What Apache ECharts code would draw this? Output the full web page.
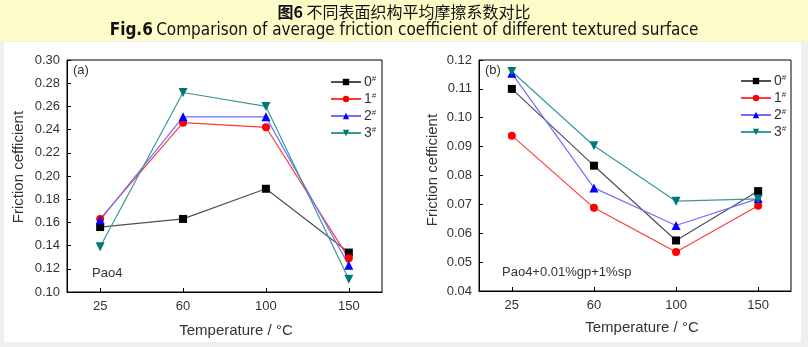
<!DOCTYPE html>
<html><head><meta charset="utf-8">
<script src="https://cdn.jsdelivr.net/npm/echarts@6/dist/echarts.min.js"></script>
<style>html,body{margin:0;padding:0;background:#efefef}#c{width:808px;height:347px}</style>
</head><body><div id="c"></div>
<script>
var categories = ['25', '60', '100', '150'];
var seriesNames = ['0#', '1#', '2#', '3#'];
var panelA0 = [0.156, 0.163, 0.189, 0.134];
var panelA1 = [0.163, 0.246, 0.242, 0.129];
var panelA2 = [0.162, 0.251, 0.251, 0.123];
var panelA3 = [0.139, 0.272, 0.260, 0.111];
var panelB0 = [0.110, 0.0834, 0.0575, 0.0746];
var panelB1 = [0.0938, 0.0688, 0.0535, 0.0695];
var panelB2 = [0.1154, 0.0757, 0.0627, 0.0720];
var panelB3 = [0.1160, 0.0903, 0.0711, 0.0719];
var yTicksA = [0.10, 0.30, 0.02];
var yTicksB = [0.04, 0.12, 0.01];

var styles = [
  {sym: 'rect', size: 8, rot: 0, mk: '#000000', ln: '#505050'},
  {sym: 'circle', size: 8, rot: 0, mk: '#ff0000', ln: '#ff3a3a'},
  {sym: 'triangle', size: 9, rot: 0, mk: '#0000ff', ln: '#7070ff'},
  {sym: 'triangle', size: 9, rot: 180, mk: '#007878', ln: '#3a9898'}
];
function pts(arr) { return arr.map(function (v, i) { return [i, v]; }); }
function mkSeries(arrs, idx) {
  return arrs.map(function (arr, k) {
    var s = styles[k];
    return {
      name: seriesNames[k], type: 'line', xAxisIndex: idx, yAxisIndex: idx,
      data: pts(arr), symbol: s.sym, symbolSize: s.size, symbolRotate: s.rot,
      itemStyle: {color: s.mk}, lineStyle: {color: s.ln, width: 1.2},
      emphasis: {disabled: true}, animation: false
    };
  });
}
var font = '"Liberation Sans", Arial, sans-serif';
function xAx(idx) {
  return {
    type: 'value', gridIndex: idx, min: -0.4, max: 3.4,
    axisLine: {onZero: false, lineStyle: {color: '#000', width: 1}},
    axisTick: {inside: true, length: 4, customValues: [0, 1, 2, 3], lineStyle: {color: '#000'}},
    axisLabel: {customValues: [0, 1, 2, 3], formatter: function (v) { return categories[Math.round(v)]; },
      color: '#333', fontSize: 13, fontFamily: font, margin: 8},
    splitLine: {show: false}
  };
}
function yAx(idx, t) {
  return {
    type: 'value', gridIndex: idx, min: t[0], max: t[1], interval: t[2],
    axisLine: {show: true, onZero: false, lineStyle: {color: '#000', width: 1}},
    axisTick: {show: true, inside: true, length: 4, lineStyle: {color: '#000'}},
    axisLabel: {formatter: function (v) { return v.toFixed(2); }, color: '#333', fontSize: 13, fontFamily: font, margin: 7},
    splitLine: {show: false}
  };
}
function legendFmt(n) { return '{n|' + n.charAt(0) + '}{s|#}'; }
function legend(left, top) {
  return {
    data: seriesNames, orient: 'vertical', left: left, top: top, itemWidth: 30, itemHeight: 8, itemGap: 3,
    selectedMode: false, formatter: legendFmt,
    textStyle: {color: '#333', fontFamily: font, fontSize: 14, padding: [0, 0, 0, -2],
      rich: {n: {fontSize: 14, fontFamily: font, color: '#333'}, s: {fontSize: 8, fontFamily: font, color: '#333', verticalAlign: 'top', padding: [0, 0, 6, 0]}}}
  };
}
function txt(x, y, s, size, extra) {
  var st = {text: s, x: x, y: y, fill: '#333', font: size + 'px ' + font};
  if (extra) for (var k in extra) st[k] = extra[k];
  return {type: 'text', style: st, z: 10};
}
var chart = echarts.init(document.getElementById('c'), null, {renderer: 'canvas'});
chart.setOption({
  backgroundColor: '#efefef',
  animation: false,
  graphic: [
    {type: 'rect', shape: {x: 0, y: 0, width: 808, height: 41}, style: {fill: '#fdfbc8'}, z: -10},
    {type: 'rect', shape: {x: 4, y: 42, width: 797, height: 300}, style: {fill: '#ffffff'}, z: -10},
    {type: 'text', style: {x: 404, y: 12, textAlign: 'center', textVerticalAlign: 'middle',
      text: '{b|图6} {r|不同表面织构平均摩擦系数对比}',
      rich: {b: {fontSize: 16, fontWeight: 'bold', fontFamily: '"Noto Sans CJK SC", sans-serif', fill: '#111'},
             r: {fontSize: 16, fontFamily: '"Noto Sans CJK SC", sans-serif', fill: '#111'}}}},
    {type: 'text', style: {x: 404, y: 31, textAlign: 'center', textVerticalAlign: 'middle',
      text: '{b|Fig.6} {r|Comparison of average friction coefficient of different textured surface}',
      rich: {b: {fontSize: 17, fontWeight: 'bold', fontFamily: '"Liberation Sans Narrow", "DejaVu Sans Condensed", sans-serif', fill: '#111'},
             r: {fontSize: 17, fontFamily: '"Liberation Sans Narrow", "DejaVu Sans Condensed", sans-serif', fill: '#111'}}}},
    txt(73, 70, '(a)', 13, {textVerticalAlign: 'middle'}),
    txt(92, 273, 'Pao4', 13, {textVerticalAlign: 'middle'}),
    txt(485, 70, '(b)', 13, {textVerticalAlign: 'middle'}),
    txt(502, 272, 'Pao4+0.01%gp+1%sp', 13, {textVerticalAlign: 'middle'}),
    {type: 'text', rotation: Math.PI / 2, x: 19, y: 167, style: {text: 'Friction cefficient', fill: '#333', font: '15px ' + font, textAlign: 'center', textVerticalAlign: 'middle'}},
    {type: 'text', rotation: Math.PI / 2, x: 433, y: 170, style: {text: 'Friction cefficient', fill: '#333', font: '15px ' + font, textAlign: 'center', textVerticalAlign: 'middle'}},
    txt(236, 331, 'Temperature / °C', 15, {textAlign: 'center', textVerticalAlign: 'middle'}),
    txt(642, 328, 'Temperature / °C', 15, {textAlign: 'center', textVerticalAlign: 'middle'})
  ],
  grid: [
    {left: 67, top: 60, width: 315, height: 232, show: true, borderColor: '#000', borderWidth: 1, backgroundColor: 'transparent'},
    {left: 479, top: 60, width: 312, height: 231, show: true, borderColor: '#000', borderWidth: 1, backgroundColor: 'transparent'}
  ],
  xAxis: [xAx(0), xAx(1)],
  yAxis: [yAx(0, yTicksA), yAx(1, yTicksB)],
  legend: [legend(325, 70), legend(735, 69)],
  series: mkSeries([panelA0, panelA1, panelA2, panelA3], 0).concat(mkSeries([panelB0, panelB1, panelB2, panelB3], 1))
});
</script></body></html>
